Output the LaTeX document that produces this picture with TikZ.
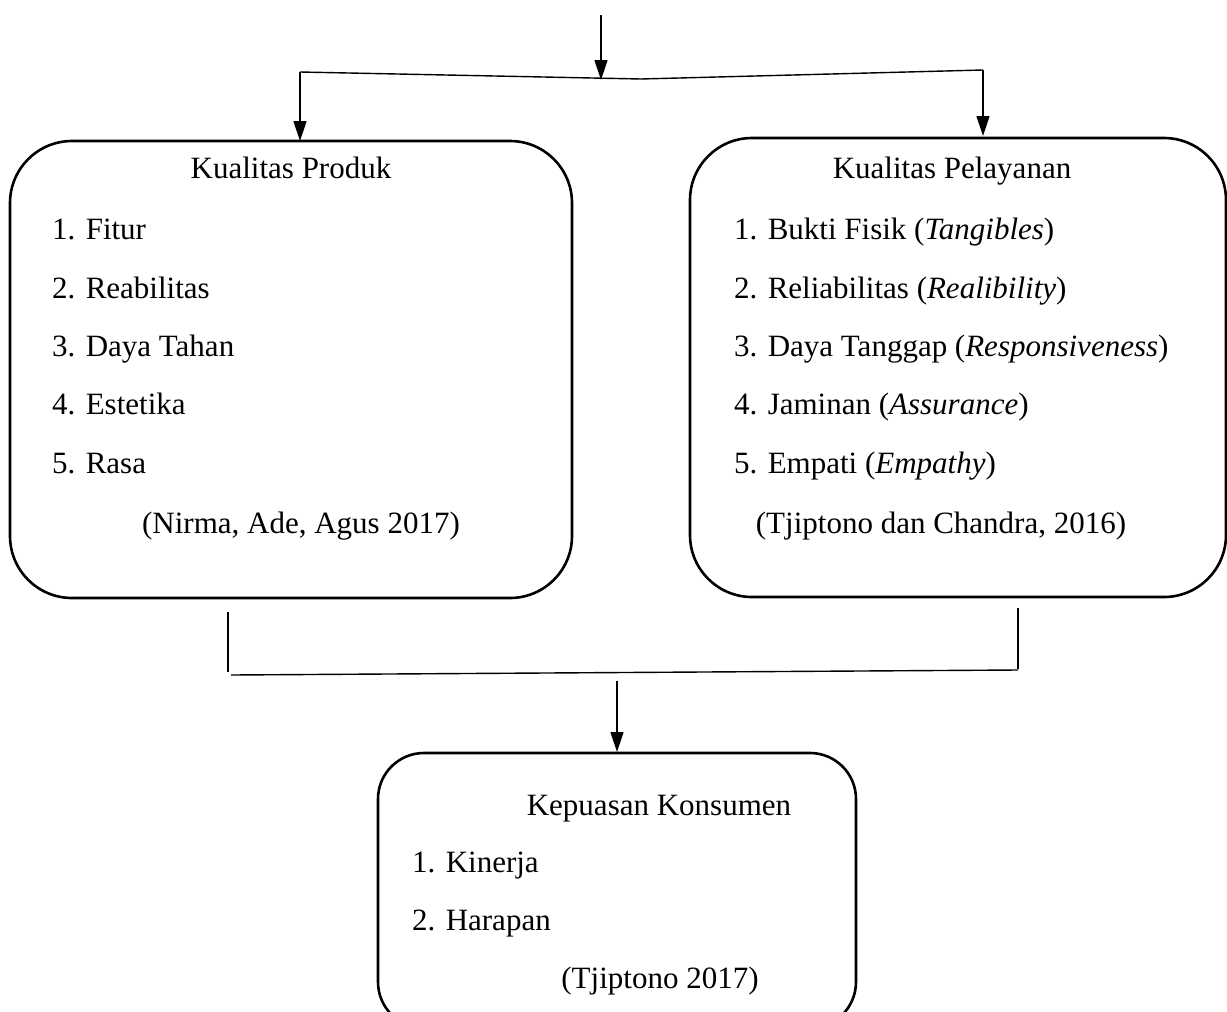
\documentclass[tikz,border=0pt]{standalone}
\usepackage{fontspec}
\setmainfont{Liberation Serif}
\usetikzlibrary{arrows.meta}
\begin{document}
\begin{tikzpicture}[x=1pt,y=-1pt,
  box/.style={draw=black, line width=2.6pt, rectangle, anchor=north west, inner sep=0pt, outer sep=0pt},
  conn/.style={draw=black, line width=1.4pt},
  arr/.style={conn, -{Triangle[length=20pt,width=13pt]}},
  txt/.style={font=\fontsize{31}{36}\selectfont, inner sep=0pt, anchor=base},
  item/.style={txt, anchor=base west}]
\useasboundingbox (0,0) rectangle (1227,1012);
\begin{scope}
\clip (0,0) rectangle (1227,1012);
% boxes
\node[box, rounded corners=62pt, minimum width=562pt, minimum height=457pt] (kp) at (10,141) {};
\node[box, rounded corners=62pt, minimum width=536pt, minimum height=459pt] (kl) at (690,138) {};
\node[box, rounded corners=46pt, minimum width=478pt, minimum height=275pt] (kk) at (378,753) {};
\end{scope}
% left box text
\node[txt] (kpt) at (291,178) {Kualitas Produk};
\node[item] (kp1) at (52,239) {1. Fitur};
\node[item] (kp2) at (52,298) {2. Reabilitas};
\node[item] (kp3) at (52,356) {3. Daya Tahan};
\node[item] (kp4) at (52,414) {4. Estetika};
\node[item] (kp5) at (52,473) {5. Rasa};
\node[txt] (kps) at (301,533) {(Nirma, Ade, Agus 2017)};
% right box text
\node[txt] (klt) at (952,178) {Kualitas Pelayanan};
\node[item] (kl1) at (734,239) {1. Bukti Fisik (\textit{Tangibles})};
\node[item] (kl2) at (734,298) {2. Reliabilitas (\textit{Realibility})};
\node[item] (kl3) at (734,356) {3. Daya Tanggap (\textit{Responsiveness})};
\node[item] (kl4) at (734,414) {4. Jaminan (\textit{Assurance})};
\node[item] (kl5) at (734,473) {5. Empati (\textit{Empathy})};
\node[txt] (kls) at (941,533) {(Tjiptono dan Chandra, 2016)};
% bottom box text
\node[txt] (kkt) at (659,815) {Kepuasan Konsumen};
\node[item] (kk1) at (412,872) {1. Kinerja};
\node[item] (kk2) at (412,930) {2. Harapan};
\node[txt] (kks) at (660,988) {(Tjiptono 2017)};
% connector coordinates
\coordinate (top) at (601,15);
\coordinate (topend) at (601,80);
\coordinate (bl) at (300,72);
\coordinate (bm) at (641,79);
\coordinate (br) at (983,70);
\coordinate (lt) at (300,141);
\coordinate (rt) at (983,136);
\coordinate (dl) at (228,612);
\coordinate (dlb) at (228,672);
\coordinate (hl) at (231,675);
\coordinate (hr) at (1018,670);
\coordinate (dr) at (1018,608);
\coordinate (drb) at (1018,669);
\coordinate (mid) at (617,681);
\coordinate (kktop) at (617,752);
% connectors
\draw[arr] (top) -- (topend);
\draw[conn] (bl) -- (bm) -- (br);
\draw[arr] (bl) -- (lt);
\draw[arr] (br) -- (rt);
\draw[conn] (dl) -- (dlb);
\draw[conn] (dr) -- (drb);
\draw[conn] (hl) -- (hr);
\draw[arr] (mid) -- (kktop);
\end{tikzpicture}
\end{document}
